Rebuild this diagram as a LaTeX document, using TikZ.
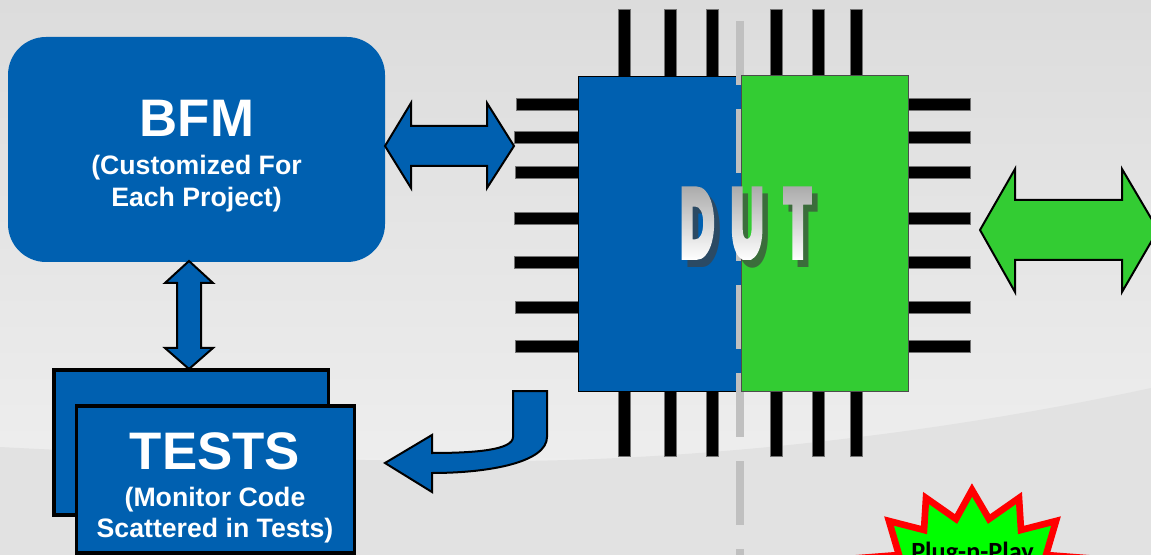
\documentclass[tikz,border=0pt]{standalone}
\usepackage{fontspec}
\setmainfont{Liberation Sans}
\newfontfamily\carl{Carlito}
\IfFontExistsTF{Poppins Black}
  {\newfontfamily\dutf[FakeStretch=0.47]{Poppins Black}}
  {\newfontfamily\dutf[FakeStretch=0.47,BoldFont={Lato Black}]{Lato Black}}
\definecolor{bfmblue}{HTML}{0060B0}
\definecolor{dutgreen}{HTML}{33CC33}
\definecolor{bgtop}{HTML}{DCDCDC}
\definecolor{bgmid}{HTML}{EEEEEE}
\definecolor{bglow}{HTML}{E2E2E2}
\definecolor{dashgray}{HTML}{C0C0C0}
\tikzset{
  blockarrow/.style={draw=black,line width=1.5pt,fill=bfmblue,miter limit=10},
  pinbar/.style={fill=black,draw=black!55,line width=.3pt},
  titletext/.style={text=white,font=\fontsize{39.6}{39.6}\selectfont\bfseries,inner sep=0pt,anchor=base},
  subtext/.style={text=white,font=\fontsize{20}{24}\selectfont\bfseries,inner sep=0pt,align=center,anchor=base},
  testbox/.style={fill=bfmblue,draw=black,line width=2.6pt},
  dutletter/.style={font=\dutf\fontsize{78}{78}\selectfont,inner sep=0pt,anchor=base west},
}
\newcommand{\dutword}{D\kern10.5ptU\kern13.5pt T}
\begin{document}
\begin{tikzpicture}[x=0.75pt,y=-0.75pt]
\useasboundingbox (0,0) rectangle (1151,555);
\clip (0,0) rectangle (1151,555);
% background
\fill[top color=bgtop,bottom color=bgmid] (0,0) rectangle (1151,470);
\fill[bglow] (0,447) .. controls (150,455) and (350,462) .. (520,461)
   .. controls (750,458) and (980,425) .. (1151,388) -- (1151,555) -- (0,555) -- cycle;
% pins
\foreach \px in {624.6,670,712,776,818,856}{
  \fill[pinbar] (\px-6,9) rectangle (\px+6,76);
  \fill[pinbar] (\px-6,391) rectangle (\px+6,456);
}
\foreach \py/\lx in {104/516,137/514,172/515,218/514,262/514,307/515,346/515}{
  \fill[pinbar] (\lx,\py-6) rectangle (578,\py+6);
  \fill[pinbar] (908,\py-6) rectangle (970.5,\py+6);
}
% DUT
\node[fill=bfmblue,draw=black,line width=.5pt,inner sep=0pt,minimum width=163*0.75pt,minimum height=315*0.75pt] (dutleft) at (659.5,233.5) {};
\draw[dashgray,line width=6pt,dash pattern=on 48pt off 18pt] (740,21) -- (740,555);
\node[fill=dutgreen,draw=black!70,line width=.5pt,inner sep=0pt,minimum width=167*0.75pt,minimum height=316*0.75pt] (dutright) at (824.5,233) {};
% DUT label: shadow, then gradient letters (text used as a clip)
\node[dutletter,text=black!75,opacity=.68] (dutshadow) at (685,268) {\dutword};
\node[dutletter,text=black] (dutlabel) at (679,260) {%
  \special{pdf:code q 7 Tr}\dutword\special{pdf:code 0 Tr}%
  \llap{\begin{tikzpicture}[baseline=(sb.south)]
    \path[top color=black!34,bottom color=white] (0,0) rectangle (6cm,-57pt);
    \coordinate (sb) at (0,-57pt);
  \end{tikzpicture}}%
  \special{pdf:code Q}};
% BFM
\node[fill=bfmblue,rounded corners=28.5pt,inner sep=0pt,minimum width=377*0.75pt,minimum height=225*0.75pt] (bfm) at (196.5,149.5) {};
\node[titletext] (bfmt) at (197,137) {BFM};
\node[subtext] (bfms1) at (196.5,175) {(Customized For};
\node[subtext] (bfms2) at (196.5,207) {Each Project)};
% tests
\node[testbox,inner sep=0pt,minimum width=274.5*0.75pt,minimum height=145*0.75pt] (testback) at (191.2,442.5) {};
\node[testbox,inner sep=0pt,minimum width=278*0.75pt,minimum height=147*0.75pt] (testfront) at (215.5,479.5) {};
\node[titletext] (testt) at (215,469) {TESTS};
\node[subtext] (tests1) at (215,506) {(Monitor Code};
\node[subtext] (tests2) at (215,537) {Scattered in Tests)};
% block arrows
\draw[blockarrow] (385,146) -- (411,103) -- (411,126) -- (487,126) -- (487,103) -- (514,146) -- (487,188) -- (487,166) -- (411,166) -- (411,188) -- cycle;
\draw[blockarrow] (189,261) -- (213,283) -- (201,283) -- (201,348) -- (213,348) -- (189,369) -- (165,348) -- (177,348) -- (177,283) -- (165,283) -- cycle;
\draw[blockarrow,fill=dutgreen] (980,230) -- (1015,169) -- (1015,200) -- (1122,200) -- (1122,169) -- (1158,230) -- (1122,292) -- (1122,260) -- (1015,260) -- (1015,292) -- cycle;
\draw[blockarrow] (513,391) -- (547,391) -- (547,437) .. controls (547,462) and (490,473) .. (432,473) -- (432,492) -- (385,463) -- (432,435) -- (432,453) .. controls (475,453) and (513,450) .. (513,437) -- cycle;
% burst
\draw[draw=red,fill=green,line width=5pt,miter limit=10] (972,490) -- (956,519) -- (926,498) -- (924,530) -- (889,521) -- (899,555) -- (860,558) -- (885,578) -- (1060,578) -- (1085,558) -- (1046,555) -- (1056,521) -- (1021,530) -- (1019,498) -- (989,519) -- cycle;
\node[font=\carl\fontsize{19.7}{19.7}\selectfont\bfseries,text=black,inner sep=0pt,anchor=base] (pnp) at (972.5,560) {Plug-n-Play};
\end{tikzpicture}
\end{document}
